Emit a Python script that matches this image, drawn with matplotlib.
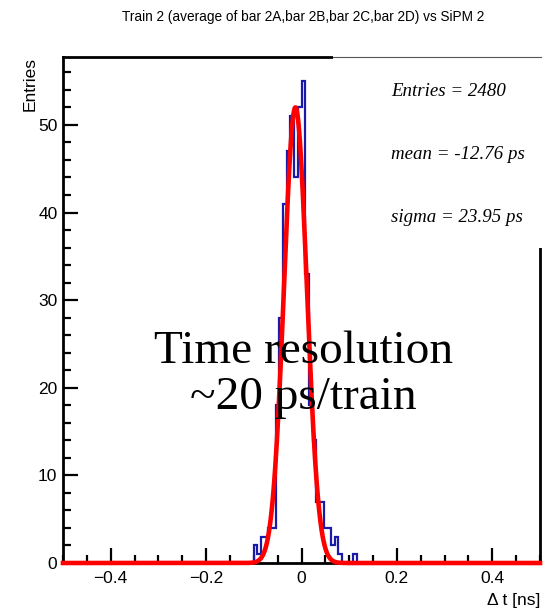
import numpy as np
import matplotlib
matplotlib.use("Agg")
import matplotlib.pyplot as plt
from matplotlib.patches import Rectangle
from matplotlib.lines import Line2D
from matplotlib.ticker import MultipleLocator

# histogram: 130 bins on [-0.5, 0.5] ns, only bins 52..79 are filled
n_bins = 130
first_bin = 52
counts_filled = [2, 1, 3, 3, 4, 4, 18, 28, 41, 47, 51, 44, 52, 55,
                 33, 18, 14, 7, 7, 4, 4, 2, 3, 1, 0, 0, 0, 1]

# gaussian fit
fit_amp = 52.0
fit_mean = -0.01276   # ns
fit_sigma = 0.02395   # ns

title = "Train 2 (average of bar 2A,bar 2B,bar 2C,bar 2D) vs SiPM 2"
stats_lines = ["Entries = 2480", "mean = -12.76 ps", "sigma = 23.95 ps"]
note = "Time resolution\n~20 ps/train"

edges = np.linspace(-0.5, 0.5, n_bins + 1)
counts = np.zeros(n_bins)
counts[first_bin:first_bin + len(counts_filled)] = counts_filled

W, H = 551, 608
fig = plt.figure(figsize=(W / 100, H / 100), dpi=100)
ax = fig.add_axes([63 / W, 1 - 563 / H, 477 / W, (563 - 57) / H])

ax.stairs(counts, edges, color="#1a1aa8", lw=1.6, zorder=2)
xs = np.linspace(-0.5, 0.5, 1500)
ax.plot(xs, fit_amp * np.exp(-0.5 * ((xs - fit_mean) / fit_sigma) ** 2),
        color="#ff0000", lw=3.3, zorder=4, clip_on=False)

ax.set_xlim(-0.5, 0.5)
ax.set_ylim(0, 57.75)
ax.xaxis.set_major_locator(MultipleLocator(0.2))
ax.xaxis.set_minor_locator(MultipleLocator(0.05))
ax.yaxis.set_major_locator(MultipleLocator(10))
ax.yaxis.set_minor_locator(MultipleLocator(2))
ax.xaxis.set_major_formatter(plt.FuncFormatter(
    lambda v, p: "0" if abs(v) < 1e-9 else ("%.1f" % v).replace("-", "\u2212")))
ax.tick_params(which="both", direction="in", top=False, right=False, width=1.6)
ax.tick_params(which="major", length=11)
ax.tick_params(which="minor", length=5.5)
ax.tick_params(axis="both", labelsize=12.5, pad=4)
ax.tick_params(axis="x", pad=6)
for lab in ax.get_xticklabels() + ax.get_yticklabels():
    lab.set_family("Liberation Sans")
for s in ax.spines.values():
    s.set_linewidth(2.0)

ax.set_xlabel("\u0394 t [ns]", fontsize=12.5, family="Liberation Sans",
              loc="right", labelpad=5)
ax.set_ylabel("Entries", fontsize=12.5, family="Liberation Sans",
              loc="top", labelpad=0)

# stats box hiding the top-right corner of the frame
px = lambda x, y: (x / W, 1 - y / H)
x0, y0 = px(333, 248)
x1, y1 = px(545, 56)
fig.patches.append(Rectangle((x0, y0), x1 - x0, y1 - y0, transform=fig.transFigure,
                             facecolor="white", edgecolor="none", zorder=10))
fig.lines.append(Line2D([x0, px(541, 0)[0]], [y1 - 1 / H, y1 - 1 / H],
                        transform=fig.transFigure, color="#555555", lw=0.8, zorder=11))
for i, t in enumerate(stats_lines):
    tx, ty = px(391, 92 + i * 63)
    fig.text(tx, ty, t, fontsize=13.6, family="Liberation Serif", style="italic",
             va="center", ha="left", zorder=12)

fig.text(*px(303, 17), title, fontsize=9.8, family="Liberation Sans",
         ha="center", va="center")

ax.text(0.004, 21.5, note, fontsize=34, family="Liberation Serif",
        ha="center", va="center", linespacing=1.12, zorder=5)

fig.savefig("out.png", dpi=100)
